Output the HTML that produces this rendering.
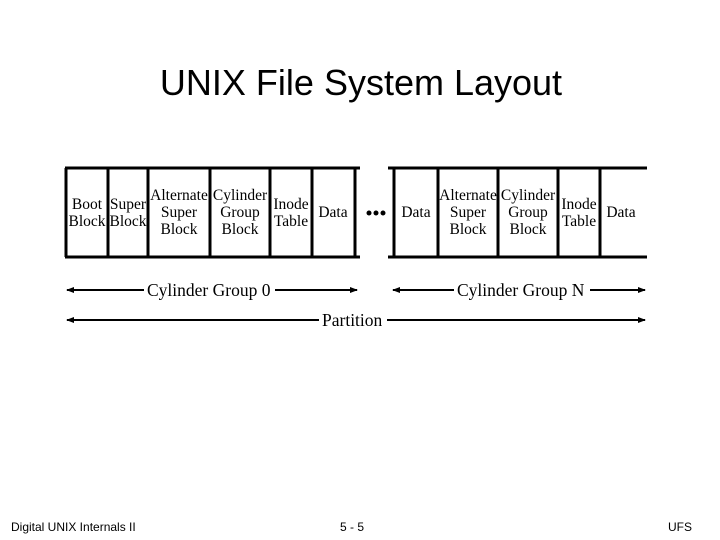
<!DOCTYPE html>
<html><head><meta charset="utf-8"><style>
html,body{margin:0;padding:0;background:#fff;width:720px;height:540px;overflow:hidden}
svg text{fill:#000}
.s{font-family:"Liberation Serif",serif;font-size:15.5px}
</style></head><body>
<svg width="720" height="540" viewBox="0 0 720 540" xmlns="http://www.w3.org/2000/svg">
<defs><marker id="a" markerWidth="8" markerHeight="8" refX="7" refY="4" orient="auto-start-reverse" markerUnits="userSpaceOnUse"><path d="M0,1 L8,4 L0,7 Z" fill="#000"/></marker></defs>
<text x="361" y="95" text-anchor="middle" font-family="Liberation Sans,sans-serif" font-size="36">UNIX File System Layout</text>
<g stroke="#000" stroke-width="3" fill="none">
<line x1="65" y1="168" x2="360" y2="168"/><line x1="65" y1="257" x2="360" y2="257"/>
<line x1="66" y1="168" x2="66" y2="257"/><line x1="108" y1="168" x2="108" y2="257"/>
<line x1="148" y1="168" x2="148" y2="257"/><line x1="210" y1="168" x2="210" y2="257"/>
<line x1="270" y1="168" x2="270" y2="257"/><line x1="312" y1="168" x2="312" y2="257"/>
<line x1="355" y1="168" x2="355" y2="257"/>
<line x1="388" y1="168" x2="647" y2="168"/><line x1="388" y1="257" x2="647" y2="257"/>
<line x1="394" y1="168" x2="394" y2="257"/><line x1="438" y1="168" x2="438" y2="257"/>
<line x1="498" y1="168" x2="498" y2="257"/><line x1="558" y1="168" x2="558" y2="257"/>
<line x1="600" y1="168" x2="600" y2="257"/>
</g>
<g fill="#000"><circle cx="369" cy="213" r="2.5"/><circle cx="376" cy="213" r="2.5"/><circle cx="383" cy="213" r="2.5"/></g>
<g class="s" text-anchor="middle">
<text x="87" y="209">Boot</text><text x="87" y="226">Block</text>
<text x="128" y="209">Super</text><text x="128" y="226">Block</text>
<text x="179" y="200">Alternate</text><text x="179" y="217">Super</text><text x="179" y="234">Block</text>
<text x="240" y="200">Cylinder</text><text x="240" y="217">Group</text><text x="240" y="234">Block</text>
<text x="291" y="209">Inode</text><text x="291" y="226">Table</text>
<text x="333" y="217">Data</text>
<text x="416" y="217">Data</text>
<text x="468" y="200">Alternate</text><text x="468" y="217">Super</text><text x="468" y="234">Block</text>
<text x="528" y="200">Cylinder</text><text x="528" y="217">Group</text><text x="528" y="234">Block</text>
<text x="579" y="209">Inode</text><text x="579" y="226">Table</text>
<text x="621" y="217">Data</text>
</g>
<g stroke="#000" stroke-width="2">
<line x1="67" y1="290" x2="144" y2="290" marker-start="url(#a)"/>
<line x1="275" y1="290" x2="357" y2="290" marker-end="url(#a)"/>
<line x1="393" y1="290" x2="454" y2="290" marker-start="url(#a)"/>
<line x1="590" y1="290" x2="645" y2="290" marker-end="url(#a)"/>
<line x1="67" y1="320" x2="319" y2="320" marker-start="url(#a)"/>
<line x1="387" y1="320" x2="645" y2="320" marker-end="url(#a)"/>
</g>
<g font-family="Liberation Serif,serif" font-size="17.5">
<text x="147" y="296">Cylinder Group 0</text>
<text x="457" y="296">Cylinder Group N</text>
<text x="322" y="326">Partition</text>
</g>
<g font-family="Liberation Sans,sans-serif" font-size="12">
<text x="11" y="531">Digital UNIX Internals II</text>
<text x="340" y="531">5 - 5</text>
<text x="668" y="531">UFS</text>
</g>
</svg>
</body></html>
